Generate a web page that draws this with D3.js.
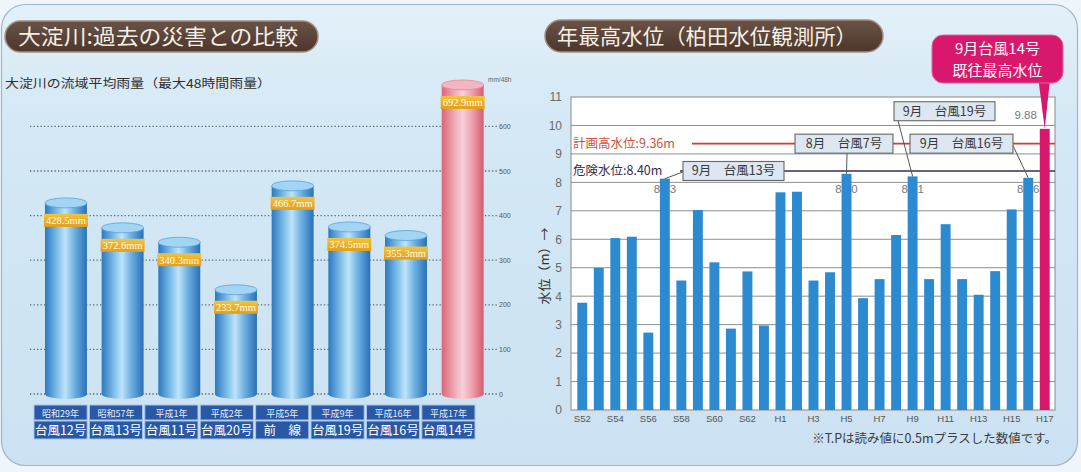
<!DOCTYPE html>
<html><head><meta charset="utf-8">
<script src="https://cdn.jsdelivr.net/npm/d3@7"></script>
<style>html,body{margin:0;padding:0;background:#eaf3fa;} svg{display:block;}</style>
</head><body><svg id="c" width="1081" height="472"></svg>
<script>
// ---------- data: left chart (rainfall) ----------
const rainYears  = ["昭和29年","昭和57年","平成1年","平成2年","平成5年","平成9年","平成16年","平成17年"];
const rainEvents = ["台風12号","台風13号","台風11号","台風20号","前　線","台風19号","台風16号","台風14号"];
const rainValues = [428.5, 372.6, 340.3, 233.7, 466.7, 374.5, 355.3, 692.9];
const rainTicks  = [0, 100, 200, 300, 400, 500, 600];

// ---------- data: right chart (annual max water level) ----------
const waterYears = ["S52","S53","S54","S55","S56","S57","S58","S59","S60","S61","S62","S63",
                    "H1","H2","H3","H4","H5","H6","H7","H8","H9","H10","H11","H12","H13","H14","H15","H16","H17"];
const waterLevels = [3.77,4.99,6.04,6.09,2.72,8.13,4.55,7.03,5.19,2.86,4.87,2.97,
                     7.65,7.67,4.55,4.84,8.30,3.93,4.60,6.15,8.21,4.60,6.53,4.60,4.05,4.88,7.05,8.16,9.88];
const waterTickLabels = ["S52","S54","S56","S58","S60","S62","H1","H3","H5","H7","H9","H11","H13","H15","H17"];
const waterYTicks = [0,1,2,3,4,5,6,7,8,9,10,11];
const refNames  = ["計画高水位:9.36m","危険水位:8.40m"];
const refValues = [9.36, 8.40];
const noteYears = ["S57","H5","H9","H16"];
const noteTexts = ["9月　台風13号","8月　台風7号","9月　台風19号","9月　台風16号"];
const labeledYears = ["S57","H5","H9","H16","H17"];

const JP = "'Noto Sans CJK JP','Noto Sans',sans-serif";
const svg = d3.select("#c");
const defs = svg.append("defs");

function lin(id, dir, stops){
  const g = defs.append("linearGradient").attr("id", id);
  if(dir==="v") g.attr("x1",0).attr("y1",0).attr("x2",0).attr("y2",1);
  else g.attr("x1",0).attr("y1",0).attr("x2",1).attr("y2",0);
  stops.forEach(s=>g.append("stop").attr("offset",s[0]).attr("stop-color",s[1]));
}
lin("panel","v",[[0,"#e3f0f9"],[0.25,"#d4e8f5"],[1,"#cce2f2"]]);
lin("blueCyl","h",[[0,"#2c78bf"],[0.3,"#7fbfea"],[0.48,"#bfe3f9"],[0.7,"#6eb1e2"],[1,"#2870b8"]]);
lin("pinkCyl","h",[[0,"#db6678"],[0.35,"#f2b3bf"],[0.5,"#f8d0d7"],[0.72,"#eea2b0"],[1,"#d65a6d"]]);
lin("gold","v",[[0,"#f3c440"],[0.5,"#eab02a"],[1,"#e29f1c"]]);
lin("pillG","v",[[0,"#6a5246"],[1,"#4c372d"]]);

// background panel
svg.append("rect").attr("x",0).attr("y",0).attr("width",1081).attr("height",472).attr("fill","#eef5fb");
svg.append("rect").attr("x",1.5).attr("y",4.5).attr("width",1076).attr("height",461).attr("rx",24)
  .attr("fill","url(#panel)").attr("stroke","#9fb6c8").attr("stroke-width",1.2);

// title pills
function pill(x,y,w,h,text,tx,tlen){
  svg.append("rect").attr("x",x).attr("y",y).attr("width",w).attr("height",h).attr("rx",h/2)
    .attr("fill","url(#pillG)").attr("stroke","#a48d80").attr("stroke-width",1.5);
  svg.append("text").attr("x",tx).attr("y",y+h/2+7.5).attr("font-family",JP).attr("font-size",21)
    .attr("fill","#f6efe4").attr("textLength",tlen).attr("lengthAdjust","spacingAndGlyphs").text(text);
}
pill(5,21,313,31,"大淀川:過去の災害との比較",18,280);
pill(545,20,338,32,"年最高水位（柏田水位観測所）",557,300);

svg.append("text").attr("x",5).attr("y",88).attr("font-family",JP).attr("font-size",12)
  .attr("fill","#2e2e2e").attr("textLength",266).attr("lengthAdjust","spacingAndGlyphs")
  .text("大淀川の流域平均雨量（最大48時間雨量）");

// ================= LEFT CHART =================
const yL = d3.scaleLinear().domain([0,600]).range([394,126.4]);
const xL = d3.scaleBand().domain(d3.range(rainValues.length)).range([37.6,491]).paddingInner(0.26).paddingOuter(0.13);
const xLab = d3.scaleBand().domain(d3.range(rainValues.length)).range([34,475]).paddingInner(0.04);
const gL = svg.append("g");

gL.selectAll("line.grid").data(rainTicks).join("line")
  .attr("x1",30).attr("x2",497).attr("y1",d=>yL(d)).attr("y2",d=>yL(d))
  .attr("stroke","#5e6770").attr("stroke-width",1.3).attr("stroke-dasharray","1.3,2.2");
gL.selectAll("text.tick").data(rainTicks).join("text")
  .attr("x",499).attr("y",d=>yL(d)+2.5).attr("font-family","Liberation Sans, sans-serif")
  .attr("font-size",7).attr("fill","#555").text(d=>d);
gL.append("text").attr("x",488).attr("y",82).attr("font-family","Liberation Sans, sans-serif")
  .attr("font-size",6.5).attr("fill","#666").text("mm/48h");

const bw = xL.bandwidth();
rainValues.forEach((v,i)=>{
  const last = i===rainValues.length-1;
  const fill = last ? "url(#pinkCyl)" : "url(#blueCyl)";
  const cx = xL(i)+bw/2;
  gL.append("ellipse").attr("cx",cx).attr("cy",yL(0)).attr("rx",bw/2).attr("ry",5).attr("fill",fill);
  gL.append("rect").attr("x",xL(i)).attr("y",yL(v)).attr("width",bw).attr("height",yL(0)-yL(v)).attr("fill",fill);
  gL.append("ellipse").attr("cx",cx).attr("cy",yL(v)).attr("rx",bw/2).attr("ry",5)
    .attr("fill", last ? "#f3b6c1" : "#a2d5f4").attr("stroke", last ? "#e3879a" : "#5aa2da").attr("stroke-width",0.8);
  gL.append("rect").attr("x",xL(i)-1).attr("y",yL(v)+11).attr("width",bw+2).attr("height",13).attr("fill","url(#gold)");
  gL.append("text").attr("x",cx).attr("y",yL(v)+21.5).attr("text-anchor","middle")
    .attr("font-family","Liberation Serif, serif").attr("font-size",10.5).attr("fill","#fffbe8")
    .text(v.toFixed(1)+"mm");
});

// label table
rainYears.forEach((yr,i)=>{
  const x = xLab(i), w = xLab.bandwidth(), cx = x+w/2;
  gL.append("rect").attr("x",x).attr("y",405).attr("width",w).attr("height",15).attr("fill","#2858a6").attr("stroke","#a9c6ea").attr("stroke-width",1);
  gL.append("rect").attr("x",x).attr("y",421).attr("width",w).attr("height",18).attr("fill","#2858a6").attr("stroke","#a9c6ea").attr("stroke-width",1);
  gL.append("text").attr("x",cx).attr("y",416.5).attr("text-anchor","middle").attr("font-family",JP)
    .attr("font-size",9).attr("fill","#e6eeff").text(yr);
  gL.append("text").attr("x",cx).attr("y",434.5).attr("text-anchor","middle").attr("font-family",JP)
    .attr("font-size",12.5).attr("fill","#ffffff").text(rainEvents[i]);
});

// ================= RIGHT CHART =================
const yR = d3.scaleLinear().domain([0,11]).range([410,97]);
const xR = d3.scaleBand().domain(waterYears).range([574,1053]).paddingInner(0.4).paddingOuter(0.2);
const fx0 = 571, fx1 = 1055;
const gR = svg.append("g");
const bc = yr => xR(yr)+xR.bandwidth()/2;
const lvl = yr => waterLevels[waterYears.indexOf(yr)];

gR.append("rect").attr("x",fx0).attr("y",yR(11)).attr("width",fx1-fx0).attr("height",yR(0)-yR(11))
  .attr("fill","#ffffff").attr("stroke","#9a9a9a").attr("stroke-width",1.2);
gR.selectAll("line.g").data(waterYTicks.filter(d=>d>0&&d<11)).join("line")
  .attr("x1",fx0).attr("x2",fx1).attr("y1",d=>yR(d)).attr("y2",d=>yR(d))
  .attr("stroke","#8e8e8e").attr("stroke-width",1);

const yAxis = d3.axisLeft(yR).tickValues(waterYTicks).tickSize(0).tickPadding(9);
const ga = gR.append("g").attr("transform",`translate(${fx0},0)`).call(yAxis);
ga.select(".domain").remove();
ga.selectAll("text").attr("font-family","Liberation Sans, sans-serif").attr("font-size",12).attr("fill","#6a6a6a");

gR.append("text").attr("transform","translate(549,266) rotate(-90)").attr("text-anchor","middle")
  .attr("font-family",JP).attr("font-size",13).attr("fill","#333").text("水位（m）→");

// value labels (behind bars)
labeledYears.forEach(yr=>{
  const v = lvl(yr);
  const isMax = yr==="H17";
  gR.append("text").attr("x", isMax ? bc(yr)-19 : bc(yr)).attr("y", isMax ? yR(v)-10 : yR(8)+11)
    .attr("text-anchor","middle").attr("font-family","Liberation Sans, sans-serif").attr("font-size",11.5)
    .attr("fill","#7a7a7a").text(v.toFixed(2));
});

// reference lines
const refCol = ["#cf3f2a","#3b2f4e"];
const refTextCol = ["#c9533a","#3a2c44"];
const refStart = [692,680];
refValues.forEach((v,k)=>{
  gR.append("line").attr("x1",refStart[k]).attr("x2",fx1).attr("y1",yR(v)).attr("y2",yR(v))
    .attr("stroke",refCol[k]).attr("stroke-width",1.6);
  gR.append("text").attr("x",573).attr("y",yR(v)+4.5).attr("font-family",JP).attr("font-size",12.5)
    .attr("fill",refTextCol[k]).text(refNames[k]);
});

// bars
gR.selectAll("rect.bar").data(waterYears).join("rect")
  .attr("x",d=>xR(d)).attr("y",(d,i)=>yR(waterLevels[i])).attr("width",xR.bandwidth())
  .attr("height",(d,i)=>yR(0)-yR(waterLevels[i]))
  .attr("fill",(d,i)=>i===waterYears.length-1 ? "#d8186c" : "#2b8ad0");

// x labels
gR.selectAll("text.xl").data(waterTickLabels).join("text")
  .attr("x",d=>bc(d)).attr("y",422).attr("text-anchor","middle")
  .attr("font-family","Liberation Sans, sans-serif").attr("font-size",9.5).attr("fill","#555").text(d=>d);

// annotations (box layout)
const noteBox = [
  {x:683, w:101, yv:8.40, from:(b)=>[b.x, b.cy+1]},
  {x:795, w:98,  yv:9.36, from:(b)=>[b.x+52, b.cy+9.5]},
  {x:894, w:101, yv:10.5, from:(b)=>[b.x+4, b.cy+9.5]},
  {x:910, w:103, yv:9.36, from:(b)=>[b.x+b.w, b.cy+2]}
];
noteYears.forEach((yr,k)=>{
  const b = Object.assign({}, noteBox[k]); b.cy = yR(b.yv);
  const p = b.from(b);
  gR.append("line").attr("x1",p[0]).attr("y1",p[1]).attr("x2",bc(yr)).attr("y2",yR(lvl(yr)))
    .attr("stroke","#555").attr("stroke-width",1);
  gR.append("rect").attr("x",b.x).attr("y",b.cy-9.5).attr("width",b.w).attr("height",19)
    .attr("fill","#dce7f1").attr("stroke","#666").attr("stroke-width",1.1);
  gR.append("text").attr("x",b.x+b.w/2).attr("y",b.cy+4.5).attr("text-anchor","middle")
    .attr("font-family",JP).attr("font-size",12.5).attr("fill","#3a3a3a").text(noteTexts[k]);
});

// callout for max level
const mx = bc("H17");
gR.append("path").attr("d",`M${mx-6},82 L${mx+5},82 L${mx},${yR(lvl("H17"))} Z`).attr("fill","#d8186c");
gR.append("rect").attr("x",932).attr("y",35).attr("width",131).attr("height",48).attr("rx",11)
  .attr("fill","#d8186c").attr("stroke","#e8609a").attr("stroke-width",1);
gR.append("text").attr("x",997.5).attr("y",54).attr("text-anchor","middle").attr("font-family",JP)
  .attr("font-size",15).attr("fill","#fff4f8").text("9月台風14号");
gR.append("text").attr("x",997.5).attr("y",76).attr("text-anchor","middle").attr("font-family",JP)
  .attr("font-size",15).attr("fill","#fff4f8").text("既往最高水位");

// footnote
svg.append("text").attr("x",1057).attr("y",443).attr("text-anchor","end").attr("font-family",JP)
  .attr("font-size",12.5).attr("fill","#3c3c3c").text("※T.Pは読み値に0.5mプラスした数値です。");
</script></body></html>
